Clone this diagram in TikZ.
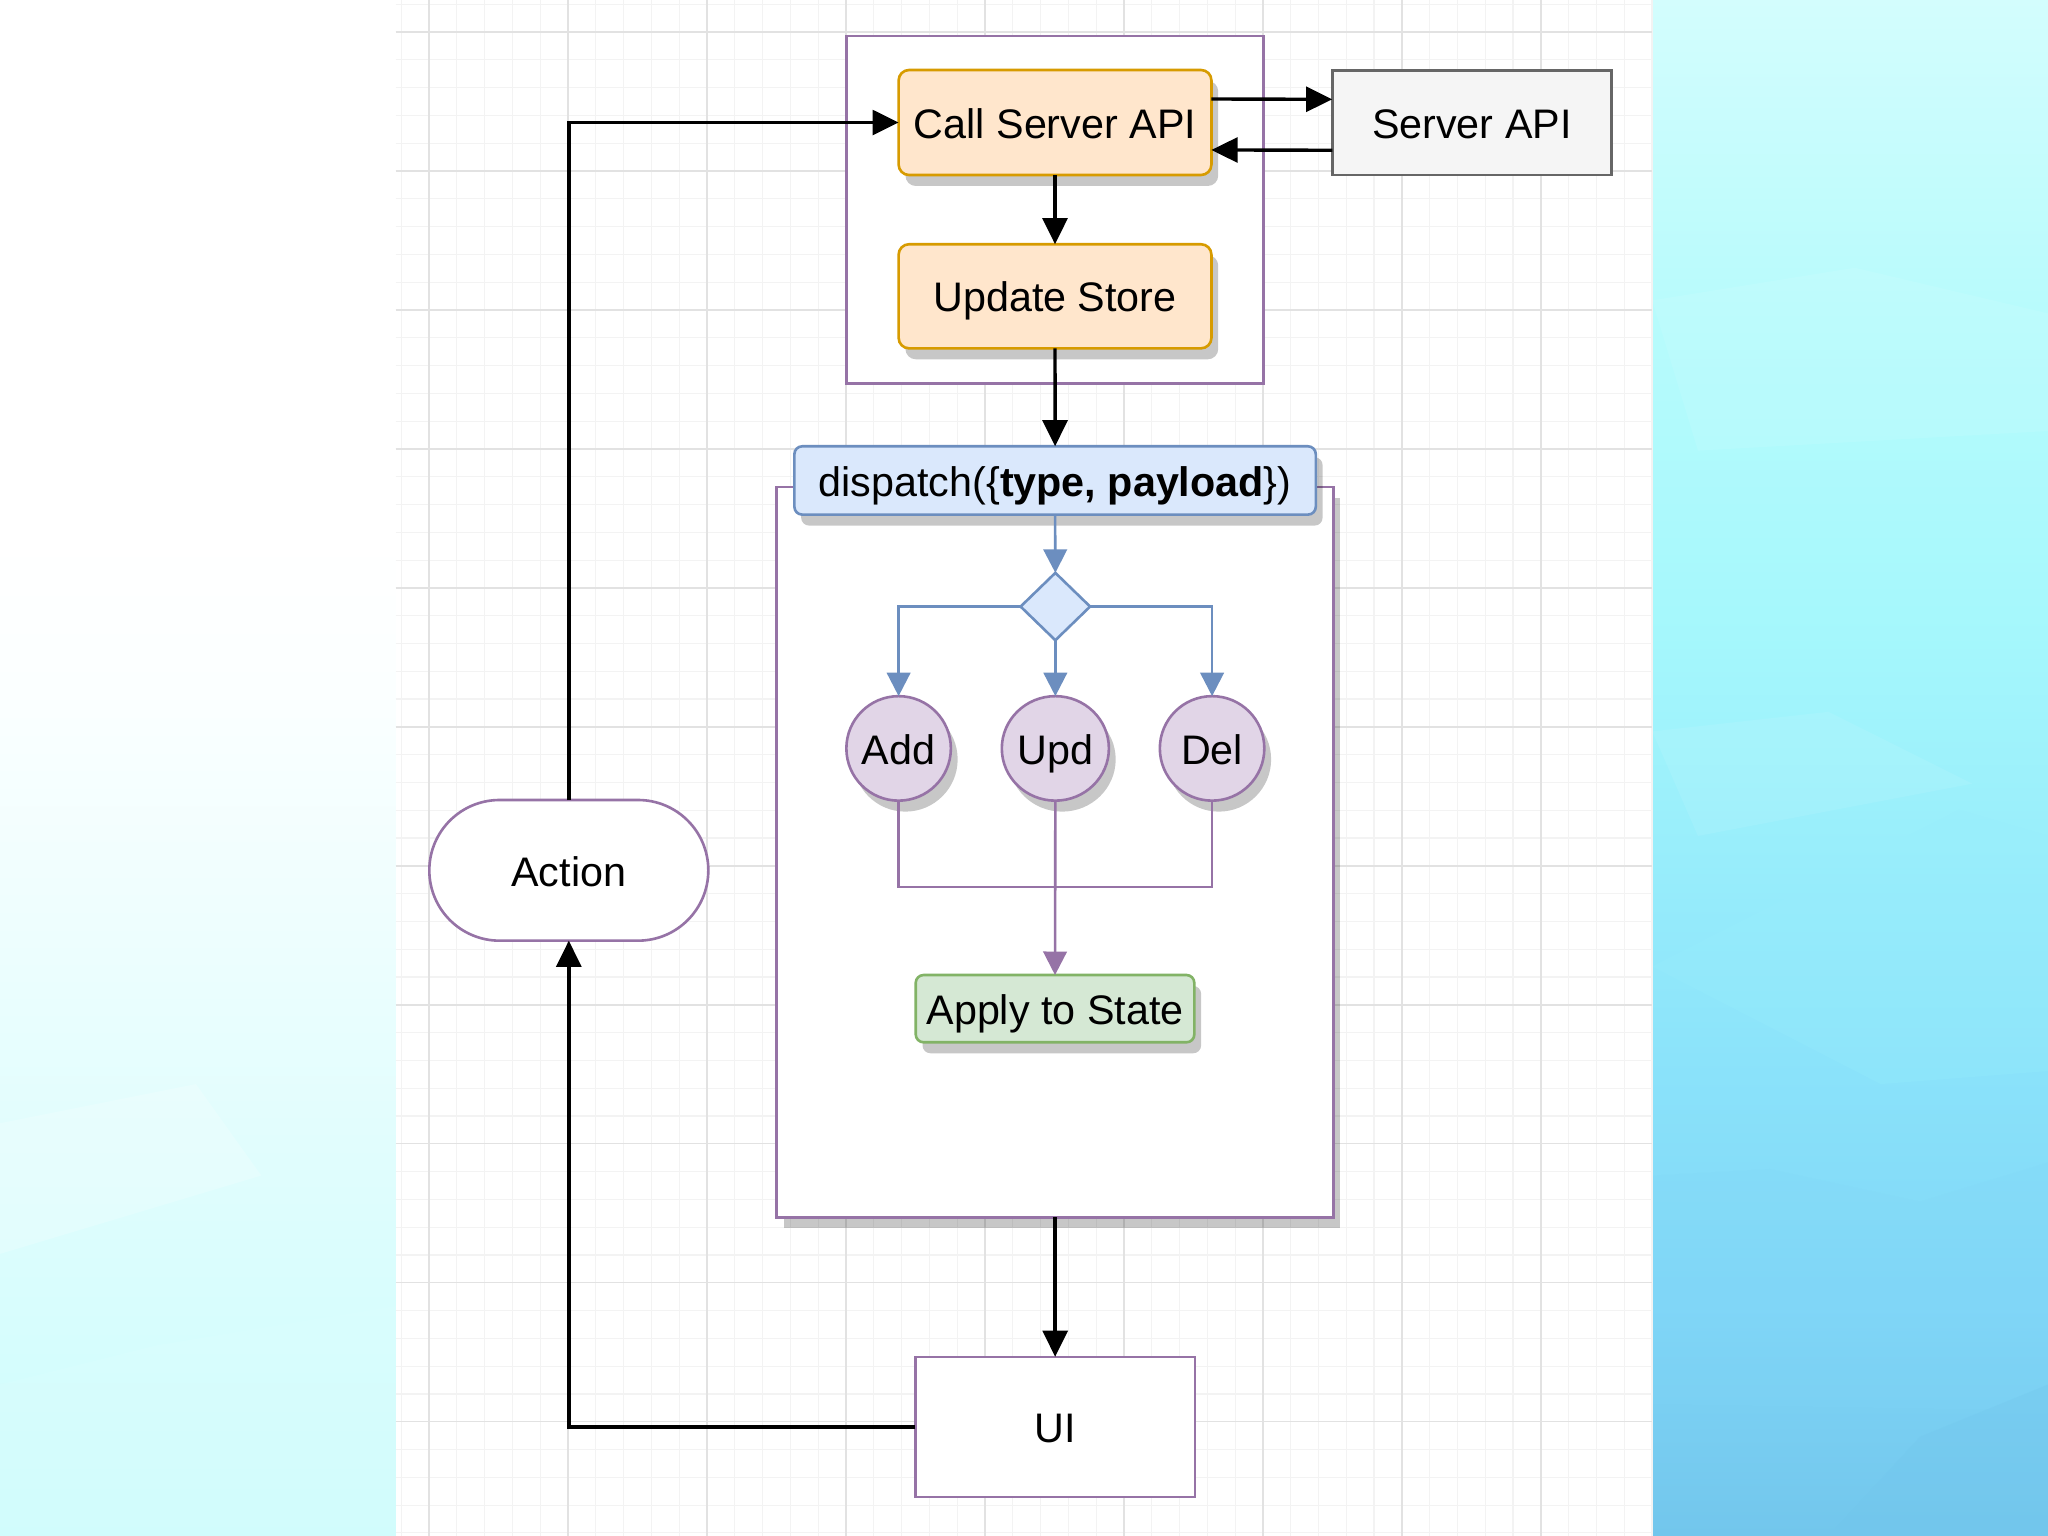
\documentclass[tikz,border=0pt]{standalone}
\usepackage{fontspec}
\setmainfont{Liberation Sans}
\usetikzlibrary{arrows.meta,shapes.geometric,shadows}
\definecolor{orfill}{HTML}{FFE6CC}
\definecolor{orline}{HTML}{D79B00}
\definecolor{blfill}{HTML}{DAE8FC}
\definecolor{blline}{HTML}{6C8EBF}
\definecolor{pufill}{HTML}{E1D5E7}
\definecolor{puline}{HTML}{9673A6}
\definecolor{grfill}{HTML}{D5E8D4}
\definecolor{grline}{HTML}{82B366}
\definecolor{gyfill}{HTML}{F5F5F5}
\definecolor{gyline}{HTML}{666666}
\definecolor{gmajc}{HTML}{E2E2E2}
\definecolor{gminc}{HTML}{F3F3F3}
\definecolor{rbA}{HTML}{72C6EC}
\definecolor{rbB}{HTML}{80D6F7}
\definecolor{rbC}{HTML}{8AE2FA}
\definecolor{rbD}{HTML}{99EEFB}
\definecolor{rbE}{HTML}{A6F8FC}
\definecolor{rbF}{HTML}{B8FBFC}
\definecolor{rbG}{HTML}{D3FDFD}
\definecolor{lbA}{HTML}{CCFCFC}
\definecolor{lbB}{HTML}{DCFDFD}
\definecolor{lbC}{HTML}{EEFEFE}
\definecolor{lbD}{HTML}{FBFFFF}
\pgfdeclareverticalshading{rightbg}{100bp}{color(0bp)=(rbA); color(25bp)=(rbA); color(32.5bp)=(rbB); color(40bp)=(rbC); color(47.5bp)=(rbD); color(55bp)=(rbE); color(65bp)=(rbF); color(75bp)=(rbG); color(100bp)=(rbG)}
\pgfdeclareverticalshading{leftbg}{100bp}{color(0bp)=(lbA); color(25bp)=(lbA); color(35bp)=(lbB); color(45bp)=(lbC); color(52.5bp)=(lbD); color(57.5bp)=(white); color(100bp)=(white)}
\tikzset{
  box/.style={draw, line width=1pt, inner sep=0pt, outer sep=0pt, text=black,
    text height=12pt, text depth=0pt, font=\fontsize{15.8}{19}\selectfont},
  shd/.style={drop shadow={shadow xshift=2.6pt, shadow yshift=-4.2pt, fill=black, opacity=0.22}},
  orbox/.style={box, rectangle, rounded corners=4pt, fill=orfill, draw=orline, shd},
  blbox/.style={box, rectangle, rounded corners=3pt, fill=blfill, draw=blline, shd},
  grbox/.style={box, rectangle, rounded corners=3pt, fill=grfill, draw=grline, shd},
  gybox/.style={box, rectangle, fill=gyfill, draw=gyline},
  pubox/.style={box, rectangle, fill=white, draw=puline},
  pucirc/.style={box, ellipse, fill=pufill, draw=puline, shd, minimum width=40pt, minimum height=40pt},
  dia/.style={draw, line width=1pt, inner sep=0pt, outer sep=0pt, diamond, aspect=1, fill=blfill, draw=blline, minimum width=26.6pt, minimum height=25.8pt},
  frame/.style={draw=puline, line width=1pt, fill=white, inner sep=0pt, outer sep=0pt, rectangle},
  blk/.style={draw=black, line width=1.3pt, -{Triangle[length=10pt,width=9.5pt]}},
  blarr/.style={draw=blline, line width=1pt, -{Triangle[length=9pt,width=9pt]}},
  puarr/.style={draw=puline, line width=1pt, -{Triangle[length=9pt,width=9pt]}},
  puline/.style={draw=puline, line width=1pt},
  gmaj/.style={draw=gmajc, line width=0.55pt},
  gmin/.style={draw=gminc, line width=0.45pt}
}
\begin{document}
\begin{tikzpicture}[x=0.5pt,y=-0.5pt]
\useasboundingbox (0,0) rectangle (1568,1176);
% backgrounds
\fill[shading=leftbg] (0,0) rectangle (303,1176);
\fill[shading=rightbg] (1265,0) rectangle (1568,1176);
\fill[white] (303,0) rectangle (1265,1176);
% low-poly facets on the right panel
\fill[white,opacity=0.08] (1265,230) -- (1420,205) -- (1568,240) -- (1568,330) -- (1300,345) -- cycle;
\fill[rbD,opacity=0.25] (1265,740) -- (1500,620) -- (1568,640) -- (1568,820) -- (1440,830) -- cycle;
\fill[rbB,opacity=0.20] (1265,900) -- (1355,895) -- (1470,920) -- (1568,890) -- (1568,1080) -- (1265,1075) -- cycle;
\fill[rbA,opacity=0.30] (1470,1100) -- (1568,1060) -- (1568,1176) -- (1400,1176) -- cycle;
\fill[white,opacity=0.08] (1265,560) -- (1400,545) -- (1510,600) -- (1300,640) -- cycle;
% low-poly facets on the left panel
\fill[lbB,opacity=0.35] (0,1060) -- (120,1030) -- (303,1000) -- (303,1176) -- (0,1176) -- cycle;
\fill[white,opacity=0.20] (0,860) -- (150,830) -- (200,900) -- (0,960) -- cycle;
% grid
\foreach \k in {0,...,45}{
  \pgfmathsetmacro\xx{307.22+21.28*\k}
  \draw[gmin] (\xx,0) -- (\xx,1176);
}
\foreach \k in {0,...,55}{
  \pgfmathsetmacro\yy{3.22+21.28*\k}
  \draw[gmin] (303,\yy) -- (1265,\yy);
}
\foreach \k in {0,...,8}{
  \pgfmathsetmacro\xx{328.5+106.4*\k}
  \draw[gmaj] (\xx,0) -- (\xx,1176);
}
\foreach \k in {0,...,10}{
  \pgfmathsetmacro\yy{24.5+106.4*\k}
  \draw[gmaj] (303,\yy) -- (1265,\yy);
}
% frames
\node[frame, minimum width=159.7pt, minimum height=132.95pt] (effects) at (807.7,160.55) {};
\node[frame, shd, minimum width=213.15pt, minimum height=279.55pt] (reducer) at (807.85,652.45) {};
% nodes
\node[orbox, minimum width=119.75pt, minimum height=40.2pt] (call) at (807.75,93.8) {Call Server API};
\node[orbox, minimum width=119.75pt, minimum height=39.85pt] (update) at (807.75,226.85) {Update Store};
\node[gybox, minimum width=106.9pt, minimum height=39.95pt] (server) at (1126.9,94.05) {Server API};
\node[blbox, minimum width=199.6pt, minimum height=26.15pt] (dispatch) at (807.8,367.85) {dispatch(\{\textbf{type, payload}\})};
\node[dia] (sw) at (808,464.4) {};
\node[pucirc] (add) at (688,573) {Add};
\node[pucirc] (upd) at (808,573) {Upd};
\node[pucirc] (del) at (928,573) {Del};
\node[grbox, minimum width=106.65pt, minimum height=25.75pt] (apply) at (807.75,772.25) {Apply to State};
\node[pubox, minimum width=106.95pt, minimum height=53.6pt] (ui) at (807.85,1092.4) {UI};
\node[pubox, rounded corners=26.9pt, minimum width=106.8pt, minimum height=53.85pt] (action) at (435.5,666.35) {Action};
\coordinate (join) at (808,679.2);
% connectors
\draw[blk] (action.north) |- (call.west);
\draw[blk] ([yshift=9pt]call.east) -- ([yshift=9pt]server.west);
\draw[blk] ([yshift=-10.5pt]server.west) -- ([yshift=-10.5pt]call.east);
\draw[blk] (call.south) -- (update.north);
\draw[blk] (update.south) -- (dispatch.north);
\draw[blarr] (dispatch.south) -- (sw.north);
\draw[blarr] (sw.west) -| (add.north);
\draw[blarr] (sw.south) -- (upd.north);
\draw[blarr] (sw.east) -| (del.north);
\draw[puline] (add.south) |- (join) -| (del.south);
\draw[puarr] (upd.south) -- (apply.north);
\draw[blk] (reducer.south) -- (ui.north);
\draw[blk] (ui.west) -| (action.south);
\end{tikzpicture}
\end{document}
